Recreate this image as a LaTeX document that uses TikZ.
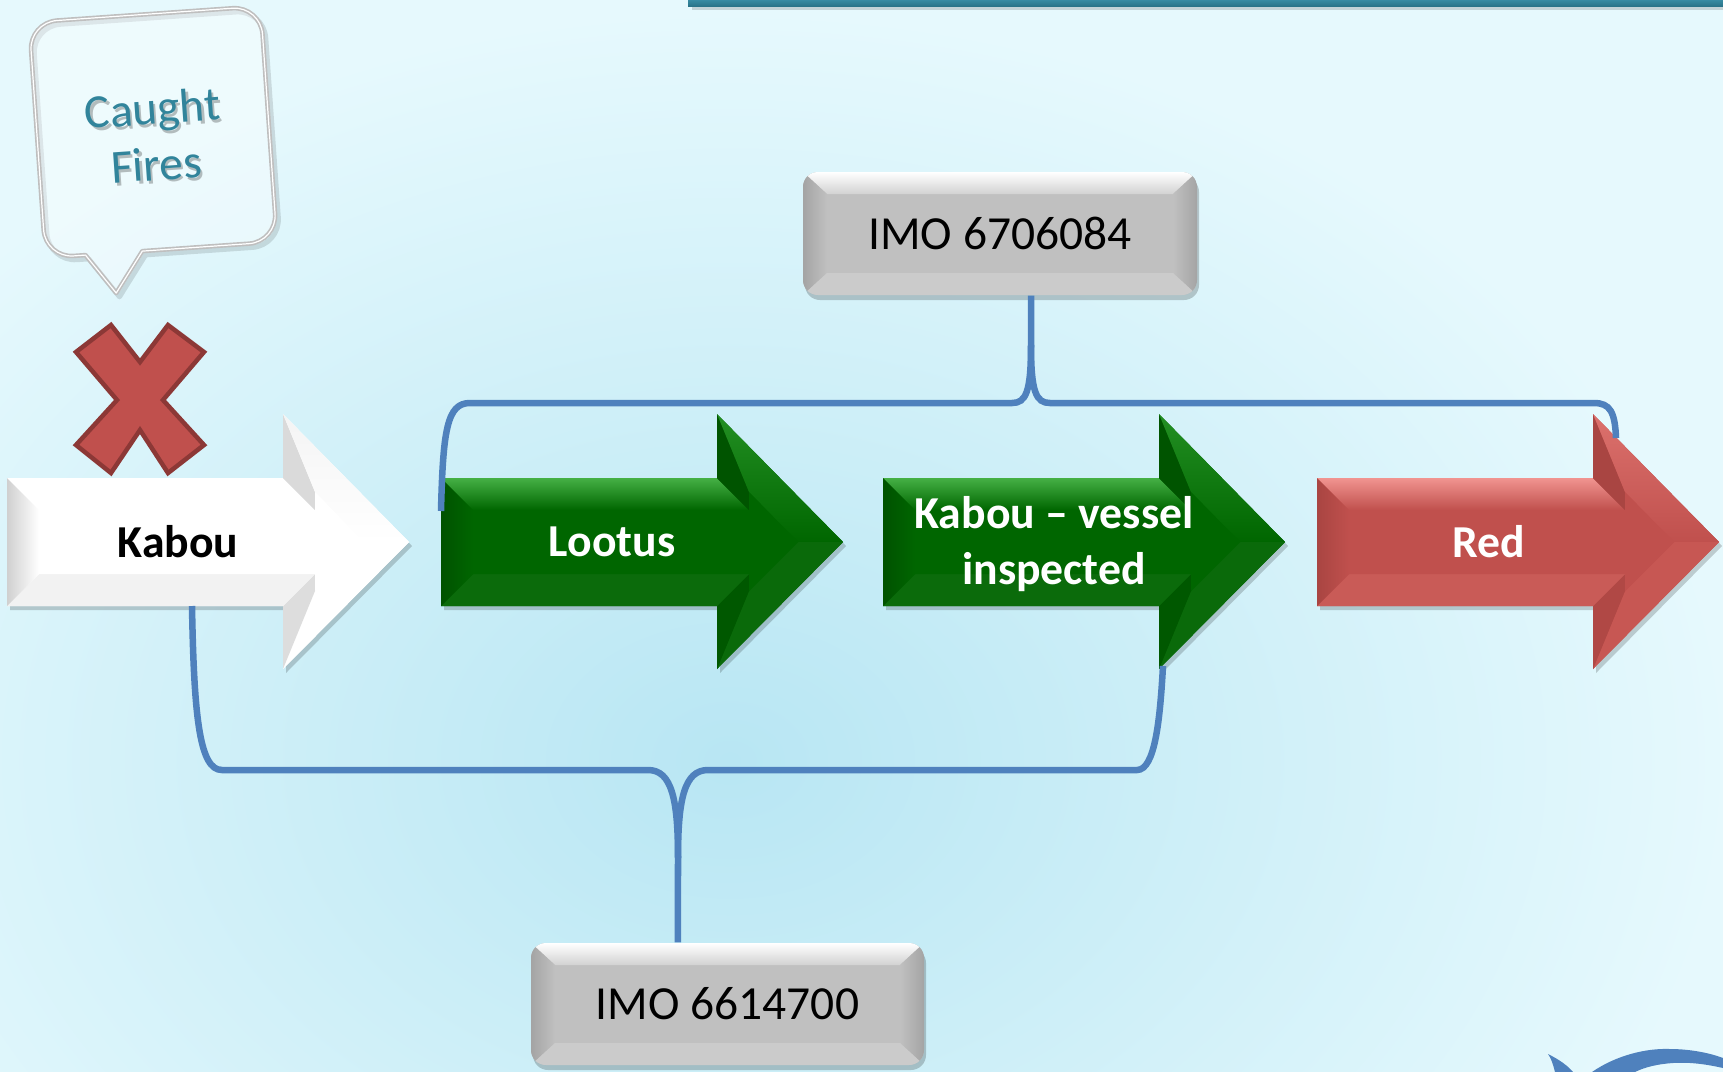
\documentclass[tikz,border=0pt]{standalone}
\usepackage{fontspec}
\setmainfont{Carlito}
\usetikzlibrary{calc}
\definecolor{bgA}{HTML}{E6F9FD}
\definecolor{bgB}{HTML}{B8E6F3}
\definecolor{lineblue}{HTML}{4F81BD}
\definecolor{cteal}{HTML}{31849B}
\definecolor{xred}{HTML}{C0504D}
\definecolor{xredd}{HTML}{8C3836}
\definecolor{barA}{HTML}{3C93AB}
\definecolor{barB}{HTML}{2A7489}
\definecolor{boxbase}{HTML}{C0C0C0}
\definecolor{boxtop}{HTML}{D2D2D2}
\definecolor{boxside}{HTML}{A4A4A4}
\definecolor{boxbot}{HTML}{CBCBCB}
% white arrow
\definecolor{wbase}{HTML}{FFFFFF}\definecolor{wtop}{HTML}{FFFFFF}
\definecolor{wbtop}{HTML}{DADADA}\definecolor{wudiag}{HTML}{F4F4F4}
\definecolor{wldiag}{HTML}{FFFFFF}\definecolor{wbbot}{HTML}{DDDDDD}
\definecolor{wbot}{HTML}{F2F2F2}\definecolor{wleft}{HTML}{D0D0D0}
% green arrow
\definecolor{gbase}{HTML}{006600}\definecolor{gtop}{HTML}{45B045}
\definecolor{gbtop}{HTML}{005400}\definecolor{gudiag}{HTML}{238F23}
\definecolor{gldiag}{HTML}{0A6A0A}\definecolor{gbbot}{HTML}{005800}
\definecolor{gbot}{HTML}{0B6B0B}\definecolor{gleft}{HTML}{005200}
% red arrow
\definecolor{rbase}{HTML}{C0504D}\definecolor{rtop}{HTML}{F19490}
\definecolor{rbtop}{HTML}{A94542}\definecolor{rudiag}{HTML}{DC716D}
\definecolor{rldiag}{HTML}{C75753}\definecolor{rbbot}{HTML}{B04845}
\definecolor{rbot}{HTML}{C95B57}\definecolor{rleft}{HTML}{A94542}

\newcommand{\bevarrow}[2]{%
 \begin{scope}[shift={(#1,0)}]
  \fill[black,opacity=0.18] (3,482)--(279,482)--(279,418)--(405,546)--(279,673)--(279,610)--(3,610)--cycle;
  \fill[#2base] (0,478)--(276,478)--(276,414)--(402,542)--(276,669)--(276,606)--(0,606)--cycle;
  \shade[top color=#2top,bottom color=#2base] (0,478)--(276,478)--(308,510)--(32,510)--cycle;
  \fill[#2btop] (276,478)--(276,414)--(308,492)--(308,510)--cycle;
  \shade[top color=#2udiag,bottom color=#2base] (276,414)--(402,542)--(357,542)--(308,492)--cycle;
  \fill[#2ldiag] (402,542)--(276,669)--(308,591)--(357,542)--cycle;
  \fill[#2bbot] (276,669)--(276,606)--(308,574)--(308,591)--cycle;
  \fill[#2bot] (276,606)--(0,606)--(32,574)--(308,574)--cycle;
  \shade[left color=#2left,right color=#2base] (0,606)--(0,478)--(32,510)--(32,574)--cycle;
  \fill[#2base] (32,510)--(308,510)--(308,492)--(357,542)--(308,591)--(308,574)--(32,574)--cycle;
 \end{scope}}

\newcommand{\bevbox}[4]{%
  \fill[black,opacity=.2,rounded corners=.15cm] ({#1+2},{#2+5}) rectangle ({#3+2},{#4+5});
  \begin{scope}
   \clip[rounded corners=.15cm] (#1,#2) rectangle (#3,#4);
   \fill[boxbase] (#1,#2) rectangle (#3,#4);
   \shade[top color=white,bottom color=boxtop] (#1,#2)--(#3,#2)--({#3-24},{#2+22})--({#1+24},{#2+22})--cycle;
   \shade[left color=boxside,right color=boxbase] (#1,#2)--({#1+24},{#2+22})--({#1+24},{#4-22})--(#1,#4)--cycle;
   \shade[right color=boxside,left color=boxbase] (#3,#2)--({#3-24},{#2+22})--({#3-24},{#4-22})--(#3,#4)--cycle;
   \fill[boxbot] (#1,#4)--({#1+24},{#4-22})--({#3-24},{#4-22})--(#3,#4)--cycle;
  \end{scope}}

\newcommand{\calloutpath}{(0,-117) -- (87,-117) .. controls (102.5,-117) and (115,-104.5) .. (115,-89)
 -- (115,91) .. controls (115,106.5) and (102.5,119) .. (87,119)
 -- (-20,119) -- (-49,159) -- (-77,119)
 -- (-89,119) .. controls (-104.5,119) and (-117,106.5) .. (-117,91)
 -- (-117,-89) .. controls (-117,-104.5) and (-104.5,-117) .. (-89,-117) -- cycle}

\newcommand{\lblfont}{\fontsize{13}{16}\selectfont\bfseries}
\newcommand{\imofont}{\fontsize{13.5}{16}\selectfont}

\begin{document}
\begin{tikzpicture}[x=0.01cm,y=-0.01cm,
  connline/.style={draw=lineblue,line width=0.065cm},
  albl/.style={font=\lblfont,text=white,align=center,inner sep=0pt},
  imolbl/.style={font=\imofont,text=black,inner sep=0pt}]
\useasboundingbox (0,0) rectangle (1723,1072);

% background
\fill[bgA] (0,0) rectangle (1723,1072);
\begin{scope}
 \clip (0,0) rectangle (1723,1072);
 \shade[inner color=bgB,outer color=bgA] (730,760) ellipse (10cm and 7.5cm);
\end{scope}

% top bar
\fill[black,opacity=.15] (692,4) rectangle (1723,10);
\shade[top color=barA,bottom color=barB] (688,-2) rectangle (1723,6);

% callout
\begin{scope}[shift={(154,131)},rotate=4]
 \begin{scope}[shift={(3,4)}]
  \draw[black,opacity=.12,line width=0.05cm,line join=round] \calloutpath;
 \end{scope}
 \draw[draw=black!25,fill=white,fill opacity=0.35,line width=0.045cm,line join=round] \calloutpath;
 \draw[white,line width=0.012cm,line join=round] \calloutpath;
 \node[transform shape,text=black,opacity=.25,font=\imofont,align=center] at (2,8) {Caught\\Fires};
 \node[transform shape,text=cteal,font=\imofont,align=center] (caught) at (0,5) {Caught\\Fires};
\end{scope}

% red X
\draw[fill=xred,draw=xredd,line width=0.045cm,line join=miter]
 (76,352)--(111,325)--(140,362)--(168,325)--(204,352)--(163,400)--(204,445)--(168,473)--(140,430)--(111,473)--(76,445)--(117,400)--cycle;

% arrows
\bevarrow{7}{w}
\bevarrow{441}{g}
\bevarrow{883}{g}
\bevarrow{1317}{r}
\node[albl,text=black] (kabou) at (178,542) {Kabou};
\node[albl] (lootus) at (612,542) {Lootus};
\node[albl] (vessel) at (1054,544) {Kabou – vessel\\inspected};
\node[albl] (red) at (1489,542) {Red};

% IMO boxes
\bevbox{803}{172}{1197}{295}
\node[imolbl,minimum width=3.94cm,minimum height=1.23cm] (imoA) at (1000,233.5) {IMO 6706084};
\bevbox{531}{943}{924}{1065}
\node[imolbl,minimum width=3.93cm,minimum height=1.22cm] (imoB) at (727.5,1004) {IMO 6614700};

% connector ends
\coordinate (tL) at (441,511);
\coordinate (tR) at (1616,438);
\coordinate (jA) at (1031,345);
\coordinate (bL) at (192,606);
\coordinate (bR) at (1163,666);
\coordinate (jB) at (678,858);

% top bracket
\draw[connline] ([xshift=0.31cm]imoA.south) -- (jA) .. controls (1031,392) and (1026,403) .. (1012,403) -- (470,403) .. controls (447,403) and (443,430) .. (tL);
\draw[connline] (jA) .. controls (1031,392) and (1036,403) .. (1050,403) -- (1594,403) .. controls (1610,403) and (1615,412) .. (tR);

% bottom bracket
\draw[connline] ([xshift=-0.495cm]imoB.north) -- (jB) .. controls (678,800) and (672,770) .. (648,770) -- (222,770) .. controls (200,770) and (194,720) .. (bL);
\draw[connline] (jB) .. controls (678,800) and (684,770) .. (708,770) -- (1137,770) .. controls (1155,770) and (1160,720) .. (bR);

% bottom-right swoosh
\fill[lineblue] (1592,1072) .. controls (1615,1056) and (1645,1048) .. (1670,1049) .. controls (1690,1049) and (1710,1053) .. (1723,1058) -- (1723,1068) .. controls (1705,1064) and (1690,1062) .. (1673,1063) .. controls (1658,1064) and (1645,1067) .. (1635,1072) -- cycle;
\fill[lineblue] (1548,1054) .. controls (1560,1060) and (1568,1066) .. (1573,1072) -- (1555,1072) .. controls (1553,1064) and (1551,1058) .. cycle;
\end{tikzpicture}
\end{document}
